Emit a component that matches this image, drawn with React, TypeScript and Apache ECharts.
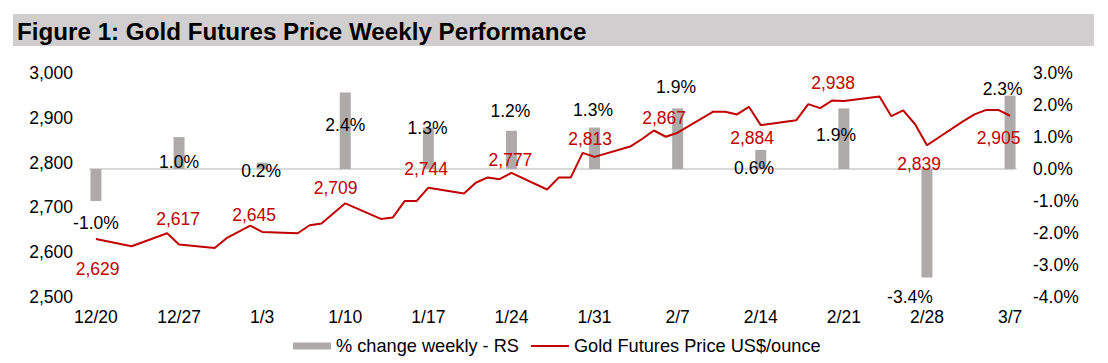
import React, { useEffect, useRef } from "react";
import * as echarts from "echarts";

// ---------- data ----------
const tradeDates = [
  "2024-12-20", "2024-12-23", "2024-12-26", "2024-12-27", "2024-12-30", "2024-12-31",
  "2025-01-02", "2025-01-03", "2025-01-06", "2025-01-07", "2025-01-08", "2025-01-10",
  "2025-01-13", "2025-01-14", "2025-01-15", "2025-01-16", "2025-01-17", "2025-01-20",
  "2025-01-21", "2025-01-22", "2025-01-23", "2025-01-24", "2025-01-27", "2025-01-28",
  "2025-01-29", "2025-01-30", "2025-01-31", "2025-02-03", "2025-02-04", "2025-02-05",
  "2025-02-06", "2025-02-07", "2025-02-10", "2025-02-11", "2025-02-12", "2025-02-13",
  "2025-02-14", "2025-02-17", "2025-02-18", "2025-02-19", "2025-02-20", "2025-02-21",
  "2025-02-24", "2025-02-25", "2025-02-26", "2025-02-27", "2025-02-28", "2025-03-03",
  "2025-03-04", "2025-03-05", "2025-03-06", "2025-03-07",
];
const goldPrice = [
  2629, 2613, 2642, 2617, 2609, 2631,
  2659, 2645, 2642, 2660, 2664, 2709,
  2674, 2677, 2714, 2714, 2744, 2731,
  2755, 2767, 2763, 2777, 2740, 2767,
  2767, 2822, 2813, 2836, 2853, 2872,
  2858, 2867, 2914, 2914, 2908, 2925,
  2884, 2895, 2931, 2922, 2939, 2938,
  2948, 2904, 2917, 2886, 2839, 2892,
  2908, 2918, 2918, 2905,
];
const weekDates = [
  "2024-12-20", "2024-12-27", "2025-01-03", "2025-01-10", "2025-01-17", "2025-01-24",
  "2025-01-31", "2025-02-07", "2025-02-14", "2025-02-21", "2025-02-28", "2025-03-07",
];
const weeklyChange = [-1.0, 1.0, 0.2, 2.4, 1.3, 1.2, 1.3, 1.9, 0.6, 1.9, -3.4, 2.3];

const leftTicks = { min: 2500, max: 3000, interval: 100 };
const rightTicks = { min: -4, max: 3, interval: 1 };

const TITLE = "Figure 1: Gold Futures Price Weekly Performance";
const BAR_NAME = "% change weekly - RS";
const LINE_NAME = "Gold Futures Price US$/ounce";

// ---------- layout (label nudges relative to the mark's tip, px) ----------
const barLabelNudge = [
  [0, 21.7], [0, 25], [-1, 8.3], [0, 32.6], [-0.8, 0.8], [-1, -19.7],
  [-1.5, -17.5], [-1.6, -21.7], [-6.7, 18.4], [-7.8, 26.6], [-17, 19.8], [-7.5, -6.6],
];
const lineLabelNudge = [
  [1.6, 30.2], [-1, -25.4], [-8, -17], [-9.7, -15.3], [-2.3, -18.4], [-1, -12.9],
  [-4.5, -17.8], [-13.6, -14.4], [-8.7, 13.2], [-10.8, -17.7], [-7.9, 18.8], [-11.5, 22.6],
];

const W = 1108;
const H = 363;
const GRID = { left: 90, right: 92, top: 73.3, bottom: 66.3 };
const FONT = "'Liberation Sans', Arial, sans-serif";
const FS = 17.5;
const RED = "#c00000";
const GREY_BAR = "#aeaaaa";

const DAY = 86400000;
const toUtc = (iso: string) => Date.parse(iso + "T00:00:00Z");

export default function App() {
  const ref = useRef<HTMLDivElement>(null);

  useEffect(() => {
    document.body.style.margin = "0";
    if (!ref.current) return;
    const chart = echarts.init(ref.current, undefined, { renderer: "svg" });

    const start = toUtc(tradeDates[0]);
    const end = toUtc(tradeDates[tradeDates.length - 1]);
    const n = Math.round((end - start) / DAY) + 1;
    const idx = (iso: string) => Math.round((toUtc(iso) - start) / DAY);

    const categories: string[] = [];
    for (let i = 0; i < n; i++) {
      const d = new Date(start + i * DAY);
      categories.push(`${d.getUTCMonth() + 1}/${d.getUTCDate()}`);
    }
    const weekIdx = weekDates.map(idx);
    const weekSet = new Set(weekIdx);

    const gridH = H - GRID.top - GRID.bottom;
    const pxPerPct = gridH / (rightTicks.max - rightTicks.min);

    const lineData: any[] = new Array(n).fill(null);
    tradeDates.forEach((iso, i) => {
      lineData[idx(iso)] = goldPrice[i];
    });
    weekIdx.forEach((wi, k) => {
      const v = lineData[wi];
      lineData[wi] = {
        value: v,
        label: { show: true, offset: lineLabelNudge[k] },
      };
    });

    const barData: any[] = new Array(n).fill(null);
    weekIdx.forEach((wi, k) => {
      const v = weeklyChange[k];
      const [dx, dy] = barLabelNudge[k];
      barData[wi] = {
        value: v,
        label: { show: true, offset: [dx, (-v * pxPerPct) / 2 + dy] },
      };
    });

    const textBase = { fontFamily: FONT, fontSize: FS, color: "#000" };

    chart.setOption({
      animation: false,
      textStyle: { fontFamily: FONT },
      graphic: [
        {
          type: "rect",
          shape: { x: 13, y: 14, width: 1081, height: 32 },
          style: { fill: "#d0cece" },
          silent: true,
        },
        {
          type: "text",
          x: 17,
          y: 31,
          style: {
            text: TITLE,
            font: `bold 24.2px ${FONT}`,
            fill: "#000",
            verticalAlign: "middle",
            align: "left",
          },
          silent: true,
        },
      ],
      legend: {
        left: 293,
        top: 337,
        padding: 0,
        itemWidth: 38,
        itemHeight: 7,
        itemGap: 11,
        textStyle: { ...textBase, fontSize: 18.2 },
        data: [
          { name: BAR_NAME, icon: "rect" },
          { name: LINE_NAME, itemStyle: { opacity: 0 } },
        ],
      },
      grid: { ...GRID },
      xAxis: {
        type: "category",
        data: categories,
        boundaryGap: true,
        axisLine: { show: true, lineStyle: { color: "#d9d9d9", width: 2 } },
        axisTick: { show: false },
        axisLabel: {
          ...textBase,
          margin: 11,
          interval: (i: number) => weekSet.has(i),
        },
        splitLine: { show: false },
      },
      yAxis: [
        {
          type: "value",
          position: "left",
          min: leftTicks.min,
          max: leftTicks.max,
          interval: leftTicks.interval,
          axisLine: { show: false },
          axisTick: { show: false },
          splitLine: { show: false },
          axisLabel: {
            ...textBase,
            margin: 17,
            formatter: (v: number) => v.toLocaleString("en-US"),
          },
        },
        {
          type: "value",
          position: "right",
          min: rightTicks.min,
          max: rightTicks.max,
          interval: rightTicks.interval,
          axisLine: { show: false },
          axisTick: { show: false },
          splitLine: { show: false },
          axisLabel: {
            ...textBase,
            margin: 17,
            formatter: (v: number) => `${v.toFixed(1)}%`,
          },
        },
      ],
      series: [
        {
          name: BAR_NAME,
          type: "bar",
          yAxisIndex: 1,
          data: barData,
          barWidth: 11,
          itemStyle: { color: GREY_BAR },
          label: {
            show: false,
            position: "inside",
            ...textBase,
            formatter: (p: any) => `${Number(p.value).toFixed(1)}%`,
          },
        },
        {
          name: LINE_NAME,
          type: "line",
          yAxisIndex: 0,
          data: lineData,
          connectNulls: true,
          showAllSymbol: true,
          symbol: "circle",
          symbolSize: 0.1,
          itemStyle: { color: RED },
          lineStyle: { color: RED, width: 2 },
          label: {
            show: false,
            position: "inside",
            ...textBase,
            color: RED,
            formatter: (p: any) => Number(p.value).toLocaleString("en-US"),
          },
          z: 3,
        },
      ],
    });

    return () => chart.dispose();
  }, []);

  return <div ref={ref} style={{ width: W, height: H }} />;
}
